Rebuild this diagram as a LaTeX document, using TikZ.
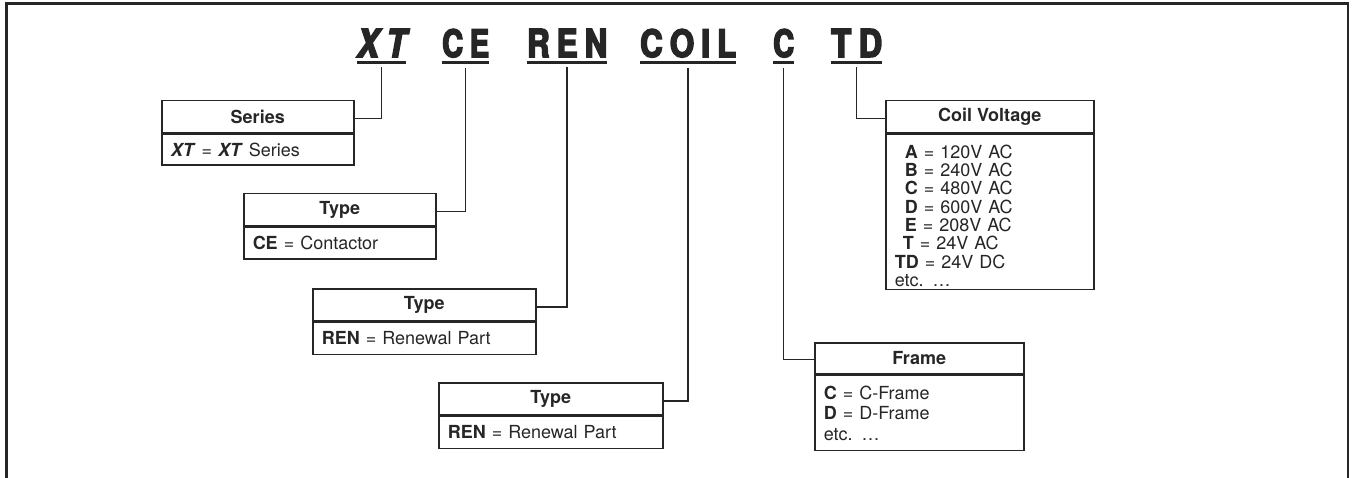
\documentclass[tikz,border=0pt]{standalone}
\usepackage{fontspec}
\usepackage{graphicx}
\setmainfont{TeX Gyre Heros}
\newfontfamily\codefont{texgyreheros-bold.otf}[FakeStretch=0.78, FakeBold=4]
\newfontfamily\codefontit{texgyreheros-bolditalic.otf}[FakeStretch=0.78, FakeBold=4]
\newcommand\codeword[3]{\resizebox{#1}{28pt}{\fontsize{39}{39}#2\selectfont #3}}
\definecolor{ink}{HTML}{262626}
\begin{document}
\begin{tikzpicture}[x=1pt,y=-1pt,
 hdr/.style={draw=ink, line width=1.5pt, anchor=north west, minimum height=32pt, inner sep=0pt, font=\bfseries\fontsize{18}{20}\selectfont, text=ink},
 bdy/.style={draw=ink, line width=1.5pt, anchor=north west, inner xsep=9pt, inner ysep=0pt, align=left, font=\fontsize{18}{20}\selectfont, text=ink},
 code/.style={anchor=base west, inner sep=0pt, text=ink},
 uline/.style={line width=2.8pt, draw=ink},
 conn/.style={draw=ink, line width=1.5pt},
]
\useasboundingbox (0,0) rectangle (1354,478);
\draw[line width=2.2pt, draw=ink] (6.5,478) -- (6.5,3.5) -- (1348,3.5) -- (1348,478);

% codes
\node[code] (xt) at (357,57) {\codeword{49pt}{\codefontit}{X\kern7pt T}};
\node[code] (ce) at (442,57) {\codeword{47pt}{\codefont}{C\kern7pt E}};
\node[code] (ren) at (527,57) {\codeword{80pt}{\codefont}{R\kern7pt E\kern7pt N}};
\node[code] (coil) at (640,57) {\codeword{96pt}{\codefont}{C\kern7pt O\kern7pt I\kern7pt L}};
\node[code] (cc) at (773,57) {\codeword{21pt}{\codefont}{C}};
\node[code] (td) at (831,57) {\codeword{51pt}{\codefont}{T\kern7pt D}};
\foreach \n in {xt,ce,ren,coil,cc,td}
  \draw[uline] ([yshift=-5pt]\n.south west) -- ([yshift=-5pt]\n.south east);

% Series
\node[hdr, minimum width=192pt] (serH) at (161,100) {Series};
\node[bdy, text width=174pt, minimum height=31pt] (serB) at (serH.south west) {\textbf{\textit{XT}} = \textbf{\textit{XT}} Series};
% Type CE
\node[hdr, minimum width=192pt] (ceH) at (243,193) {Type};
\node[bdy, text width=174pt, minimum height=32pt] (ceB) at (ceH.south west) {\textbf{CE} = Contactor};
% Type REN 1
\node[hdr, minimum width=223pt] (renH) at (312,288) {Type};
\node[bdy, text width=205pt, minimum height=32pt] (renB) at (renH.south west) {\textbf{REN} = Renewal Part};
% Type REN 2
\node[hdr, minimum width=224pt] (coilH) at (438,382) {Type};
\node[bdy, text width=206pt, minimum height=32pt] (coilB) at (coilH.south west) {\textbf{REN} = Renewal Part};
% Frame
\node[hdr, minimum width=209pt, minimum height=31pt] (frmH) at (814,342) {Frame};
\node[bdy, text width=191pt, font=\fontsize{18}{20.5}\selectfont] (frmB) at (frmH.south west)
 {\rule{0pt}{24pt}\textbf{C} = C-Frame\\ \textbf{D} = D-Frame\\ etc. …\rule[-10pt]{0pt}{10pt}};
% Coil Voltage
\node[hdr, minimum width=208pt] (cvH) at (885,100) {Coil Voltage};
\node[bdy, text width=190pt, font=\fontsize{18}{18.3}\selectfont] (cvB) at (cvH.south west)
 {\rule{0pt}{24pt}\hspace*{10pt}\textbf{A} = 120V AC\\
  \hspace*{10pt}\textbf{B} = 240V AC\\
  \hspace*{10pt}\textbf{C} = 480V AC\\
  \hspace*{10pt}\textbf{D} = 600V AC\\
  \hspace*{10pt}\textbf{E} = 208V AC\\
  \hspace*{8pt}\textbf{T} = 24V AC\\
  \textbf{TD} = 24V DC\\
  etc. …\rule[-3pt]{0pt}{3pt}};

% connectors
\draw[conn] ([yshift=-10pt]xt.south) |- ([yshift=-2pt]serH.east);
\draw[conn] ([yshift=-10pt]ce.south) |- ([yshift=-2pt]ceH.east);
\draw[conn] ([yshift=-10pt]ren.south) |- ([yshift=-2pt]renH.east);
\draw[conn] ([yshift=-10pt]coil.south) |- ([yshift=-2pt]coilH.east);
\draw[conn] ([yshift=-10pt]cc.south) |- ([yshift=-1pt]frmH.west);
\draw[conn] ([yshift=-10pt]td.south) |- ([yshift=-2pt]cvH.west);
\end{tikzpicture}
\end{document}
